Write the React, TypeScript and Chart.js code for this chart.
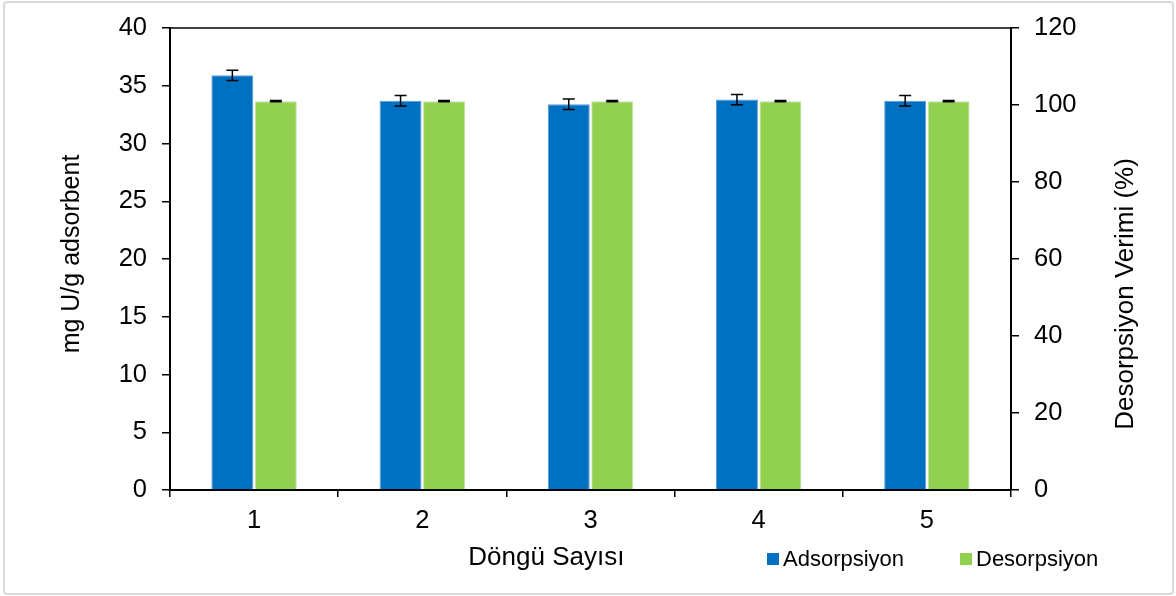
import { useEffect, useRef } from "react";
import { Chart, registerables } from "chart.js";

Chart.register(...registerables);

const cycles = ["1", "2", "3", "4", "5"];
const adsorption = [35.9, 33.7, 33.4, 33.8, 33.7];
const adsorptionErr = [0.45, 0.45, 0.45, 0.45, 0.45];
const desorption = [101, 101, 101, 101, 101];
const desorptionErr = [0.15, 0.15, 0.15, 0.15, 0.15];
const seriesNames = ["Adsorpsiyon", "Desorpsiyon"];
const xTitle = "Döngü Sayısı";
const leftTitle = "mg U/g adsorbent";
const rightTitle = "Desorpsiyon Verimi (%)";

const FONT = '"Liberation Sans", Arial, sans-serif';
const BLUE = "#0070C0";
const GREEN = "#92D050";

const errorBarPlugin = {
  id: "errorBars",
  afterDatasetsDraw(chart: any) {
    const ctx = chart.ctx;
    const errs = [adsorptionErr, desorptionErr];
    chart.data.datasets.forEach((ds: any, i: number) => {
      const meta = chart.getDatasetMeta(i);
      const scale = chart.scales[ds.yAxisID];
      ctx.save();
      ctx.strokeStyle = "#000";
      ctx.lineWidth = 1.5;
      meta.data.forEach((bar: any, j: number) => {
        const v = ds.data[j];
        const e = errs[i][j];
        const yTop = scale.getPixelForValue(v + e);
        const yBot = scale.getPixelForValue(v - e);
        const x = bar.x;
        ctx.beginPath();
        ctx.moveTo(x, yTop);
        ctx.lineTo(x, yBot);
        ctx.moveTo(x - 6, yTop);
        ctx.lineTo(x + 6, yTop);
        ctx.moveTo(x - 6, yBot);
        ctx.lineTo(x + 6, yBot);
        ctx.stroke();
      });
      ctx.restore();
    });
  },
};

const decorPlugin = {
  id: "decor",
  beforeDraw(chart: any) {
    const ctx = chart.ctx;
    ctx.save();
    ctx.fillStyle = "#fff";
    ctx.fillRect(0, 0, chart.width, chart.height);
    ctx.strokeStyle = "#d9d9d9";
    ctx.lineWidth = 2;
    ctx.beginPath();
    if (ctx.roundRect) ctx.roundRect(4, 2, 1169, 592, 3);
    else ctx.rect(4, 2, 1169, 592);
    ctx.stroke();
    ctx.restore();
  },
  afterDraw(chart: any) {
    const ctx = chart.ctx;
    const a = chart.chartArea;
    ctx.save();
    // top border of plot area
    ctx.strokeStyle = "#000";
    ctx.lineWidth = 1.5;
    ctx.beginPath();
    ctx.moveTo(a.left, a.top);
    ctx.lineTo(a.right, a.top);
    ctx.stroke();

    ctx.fillStyle = "#000";
    // x title
    ctx.font = `26px ${FONT}`;
    ctx.textAlign = "center";
    ctx.textBaseline = "alphabetic";
    ctx.fillText(xTitle, a.left + (a.right - a.left) * 0.4475, 565);

    // left title
    ctx.save();
    ctx.font = `25px ${FONT}`;
    ctx.translate(79, 254);
    ctx.rotate(-Math.PI / 2);
    ctx.fillText(leftTitle, 0, 0);
    ctx.restore();

    // right title
    ctx.save();
    ctx.font = `26px ${FONT}`;
    ctx.translate(1133, 294);
    ctx.rotate(-Math.PI / 2);
    ctx.fillText(rightTitle, 0, 0);
    ctx.restore();

    // legend
    ctx.font = `22px ${FONT}`;
    ctx.textAlign = "left";
    const items = [
      { x: 767, color: BLUE, label: seriesNames[0] },
      { x: 960, color: GREEN, label: seriesNames[1] },
    ];
    items.forEach((it) => {
      ctx.fillStyle = it.color;
      ctx.fillRect(it.x, 553, 12, 12);
      ctx.fillStyle = "#000";
      ctx.fillText(it.label, it.x + 16, 566);
    });
    ctx.restore();
  },
};

export default function App() {
  const ref = useRef<HTMLCanvasElement | null>(null);

  useEffect(() => {
    if (!ref.current) return;
    const tickFont = { family: FONT, size: 25.5, lineHeight: 1.0 };
    const chart = new Chart(ref.current, {
      type: "bar",
      data: {
        labels: cycles,
        datasets: [
          {
            label: seriesNames[0],
            data: adsorption,
            yAxisID: "y",
            backgroundColor: BLUE,
            borderColor: "#5B9BD5",
            borderWidth: 1,
            categoryPercentage: 0.517,
            barPercentage: 0.965,
          },
          {
            label: seriesNames[1],
            data: desorption,
            yAxisID: "y1",
            backgroundColor: GREEN,
            borderColor: "#C5E3A6",
            borderWidth: 1,
            categoryPercentage: 0.517,
            barPercentage: 0.965,
          },
        ],
      },
      options: {
        responsive: false,
        animation: false,
        layout: { padding: { top: 28, bottom: 0, left: 0, right: 0 } },
        plugins: {
          legend: { display: false },
          title: { display: false },
          tooltip: { enabled: false },
        },
        scales: {
          x: {
            offset: true,
            grid: {
              offset: true,
              drawOnChartArea: false,
              drawTicks: true,
              tickLength: 7,
              color: "#000",
              lineWidth: 1.5,
            },
            border: { color: "#000", width: 2 },
            ticks: { color: "#000", font: tickFont, padding: 11 },
            afterFit(scale: any) {
              scale.height = 106;
            },
          },
          y: {
            position: "left",
            min: 0,
            max: 40,
            grid: {
              drawOnChartArea: false,
              drawTicks: true,
              tickLength: 8,
              color: "#000",
              lineWidth: 1.5,
            },
            border: { color: "#000", width: 2 },
            ticks: { stepSize: 5, color: "#000", font: tickFont, padding: 15 },
            afterFit(scale: any) {
              scale.width = 170;
            },
          },
          y1: {
            position: "right",
            min: 0,
            max: 120,
            grid: {
              drawOnChartArea: false,
              drawTicks: true,
              tickLength: 8,
              color: "#000",
              lineWidth: 1.5,
            },
            border: { color: "#000", width: 2 },
            ticks: { stepSize: 20, color: "#000", font: tickFont, padding: 15 },
            afterFit(scale: any) {
              scale.width = 165;
            },
          },
        },
      },
      plugins: [decorPlugin, errorBarPlugin],
    });
    return () => chart.destroy();
  }, []);

  return (
    <div style={{ position: "absolute", top: 0, left: 0, width: 1176, height: 596, background: "#fff" }}>
      <canvas ref={ref} width={1176} height={596} style={{ display: "block", width: 1176, height: 596 }} />
    </div>
  );
}
